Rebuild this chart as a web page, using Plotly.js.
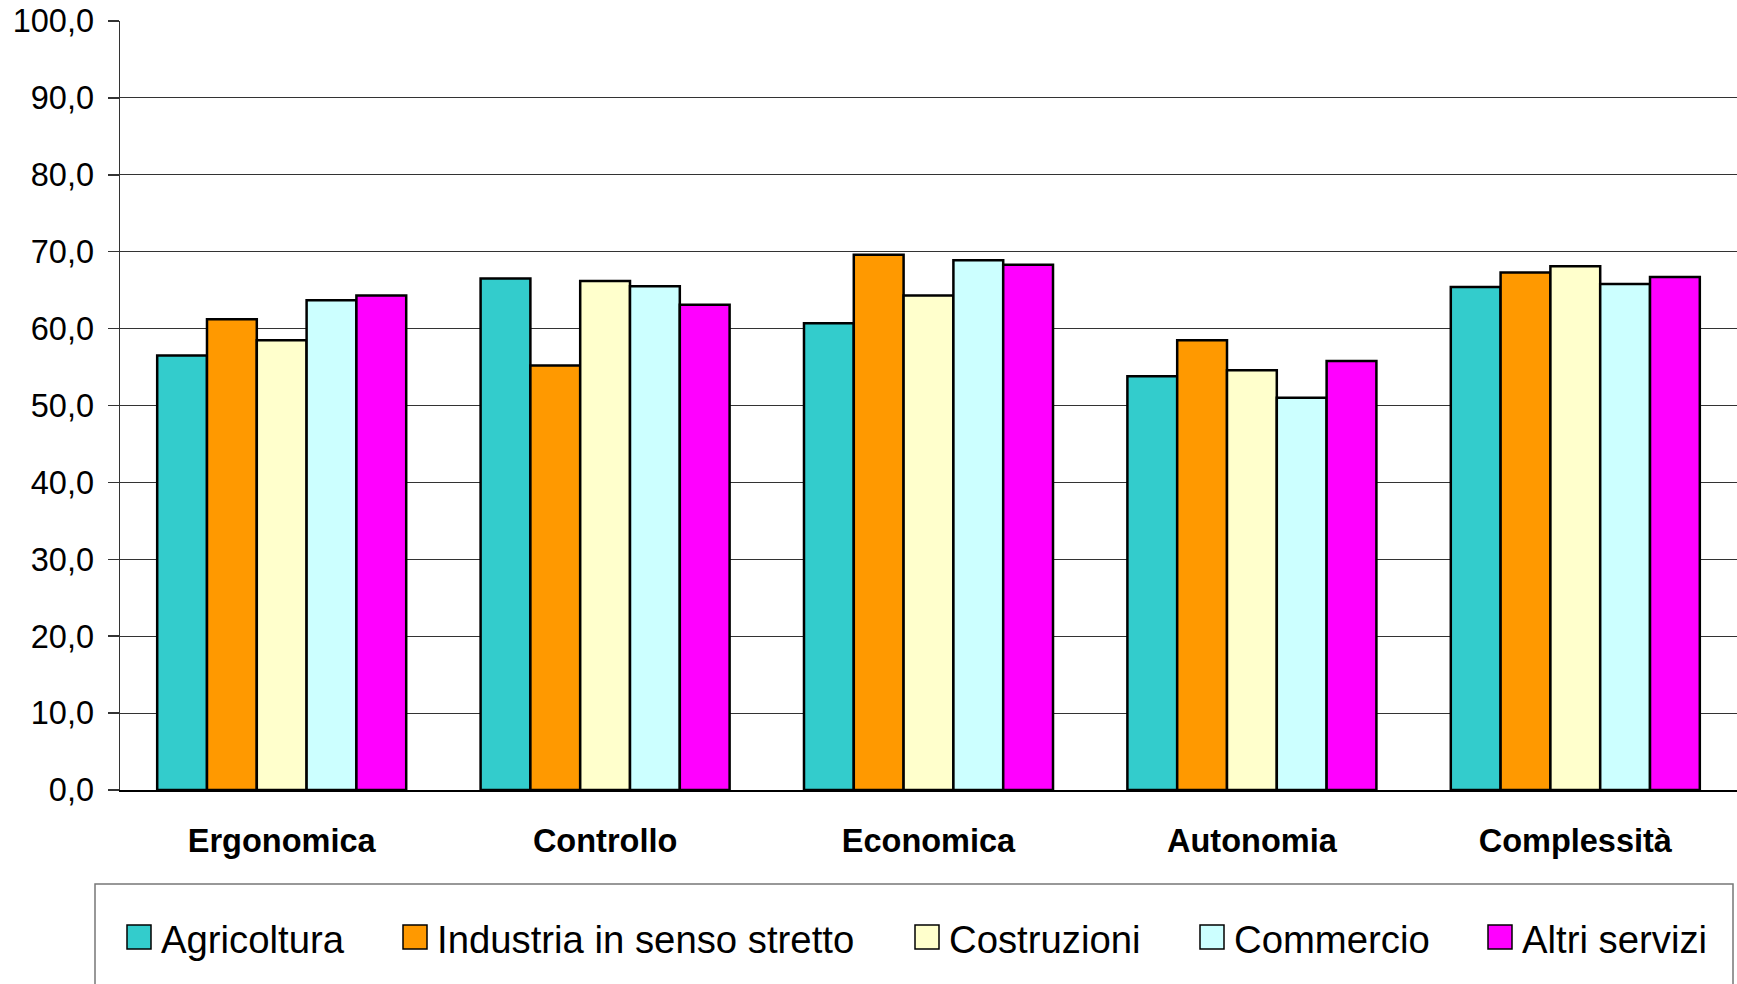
<!DOCTYPE html>
<html>
<head>
<meta charset="utf-8">
<script src="https://cdn.plot.ly/plotly-3.0.1.min.js"></script>
<style>
  html, body { margin: 0; padding: 0; background: #fff; }
  #chart { width: 1737px; height: 984px; }
</style>
</head>
<body>
<div id="chart"></div>
<script>
// ---- data ----
const categories = ['Ergonomica', 'Controllo', 'Economica', 'Autonomia', 'Complessità'];
const seriesNames = ['Agricoltura', 'Industria in senso stretto', 'Costruzioni', 'Commercio', 'Altri servizi'];
const agricoltura  = [56.5, 66.5, 60.7, 53.8, 65.4];
const industria    = [61.2, 55.2, 69.6, 58.5, 67.3];
const costruzioni  = [58.5, 66.2, 64.3, 54.6, 68.1];
const commercio    = [63.7, 65.5, 68.9, 51.0, 65.8];
const altriServizi = [64.3, 63.1, 68.3, 55.8, 66.7];
const yTickValues  = [0, 10, 20, 30, 40, 50, 60, 70, 80, 90, 100];

// ---- styles ----
const seriesValues = [agricoltura, industria, costruzioni, commercio, altriServizi];
const colors = ['#33CCCC', '#FF9900', '#FFFFCC', '#CCFFFF', '#FF00FF'];
const FONT = '"Liberation Sans", Arial, sans-serif';

const W = 1737, H = 984;
const M = { l: 120, r: 0, t: 21, b: 194 };
const plotW = W - M.l - M.r, plotH = H - M.t - M.b;
const px2x = p => (p - M.l) / plotW;
const py2y = p => (H - M.b - p) / plotH;

const traces = seriesNames.map((name, i) => ({
  type: 'bar',
  name: name,
  x: categories,
  y: seriesValues[i],
  marker: { color: colors[i], line: { color: '#000', width: 2.5 } },
  hoverinfo: 'x+y+name'
}));

// custom legend (box + swatches + labels)
const legendSwatchLeft = [127, 403, 915, 1200, 1488];
const swatchSize = 24, swatchTop = 925;
const shapes = [{
  type: 'rect', xref: 'paper', yref: 'paper',
  x0: px2x(95), x1: px2x(1733), y0: py2y(884), y1: py2y(1010),
  line: { color: '#777', width: 1.5 }, fillcolor: 'rgba(0,0,0,0)'
}];
const annotations = [];
seriesNames.forEach((name, i) => {
  const x0 = legendSwatchLeft[i];
  shapes.push({
    type: 'rect', xref: 'paper', yref: 'paper',
    x0: px2x(x0), x1: px2x(x0 + swatchSize),
    y0: py2y(swatchTop), y1: py2y(swatchTop + swatchSize),
    line: { color: '#000', width: 1.5 }, fillcolor: colors[i]
  });
  annotations.push({
    xref: 'paper', yref: 'paper',
    x: px2x(x0 + swatchSize + 8), y: py2y(939),
    xanchor: 'left', yanchor: 'middle',
    text: name, showarrow: false,
    font: { family: FONT, size: 38.3, color: '#000' }
  });
});

const layout = {
  width: W, height: H,
  margin: M,
  paper_bgcolor: '#fff', plot_bgcolor: '#fff',
  separators: ',.',
  showlegend: false,
  barmode: 'group',
  bargap: 0.23,
  bargroupgap: 0,
  font: { family: FONT, color: '#000' },
  xaxis: {
    type: 'category',
    showline: true, linecolor: '#000', linewidth: 1.5,
    ticks: '', showgrid: false,
    tickfont: { family: FONT, size: 32.5, color: '#000', weight: 'bold' },
    ticklabelstandoff: 21,
    fixedrange: true
  },
  yaxis: {
    range: [0, 100],
    tickvals: yTickValues,
    tickformat: '.1f',
    showline: true, linecolor: '#333', linewidth: 1.5,
    ticks: 'outside', ticklen: 11, tickcolor: '#333', tickwidth: 1.5,
    showgrid: true, gridcolor: '#333', gridwidth: 1,
    zeroline: false,
    tickfont: { family: FONT, size: 32.5, color: '#000' },
    ticklabelstandoff: 7,
    fixedrange: true
  },
  shapes: shapes,
  annotations: annotations
};

Plotly.newPlot('chart', traces, layout, { displayModeBar: false, staticPlot: true });
</script>
</body>
</html>
